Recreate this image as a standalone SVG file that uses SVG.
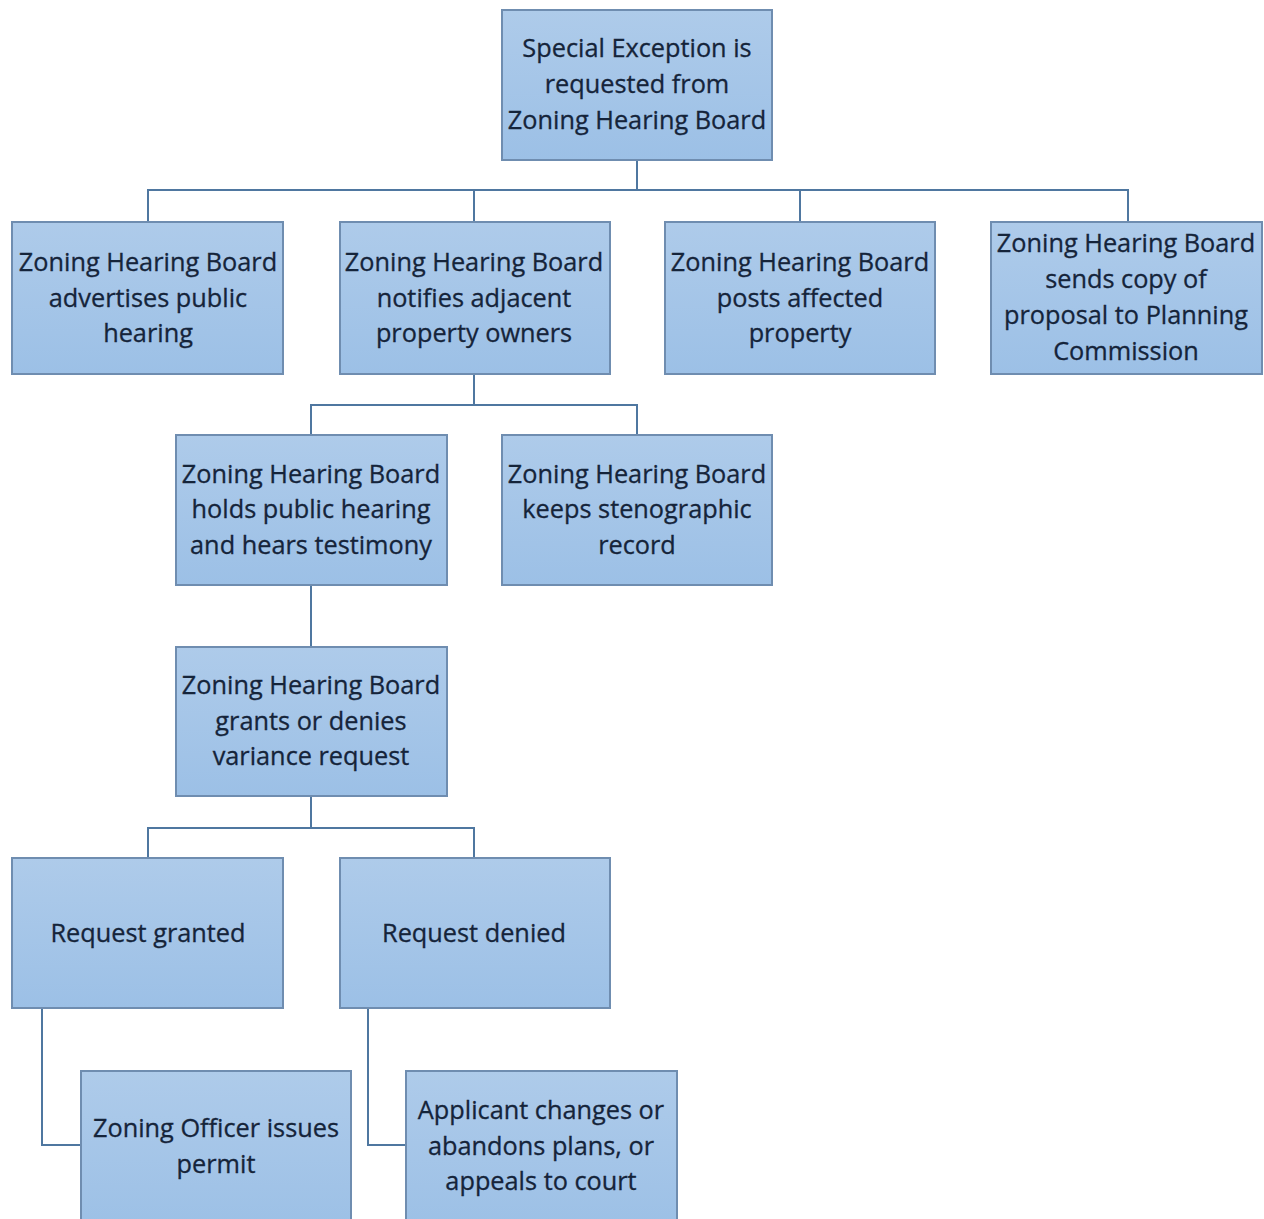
<svg xmlns="http://www.w3.org/2000/svg" width="1264" height="1219" viewBox="0 0 1264 1219">
<style>
.box{fill:url(#g);stroke:#6f8db0;stroke-width:2}
.t{font-family:"Open Sans","Liberation Sans",sans-serif;font-size:25.3px;fill:#15243a;text-anchor:middle;stroke:#15243a;stroke-width:0.3}
.c{fill:none;stroke:#4f77a0;stroke-width:2}
</style>
<defs>
<linearGradient id="g" x1="0" y1="0" x2="0" y2="1">
<stop offset="0" stop-color="#aecbea"/>
<stop offset="1" stop-color="#9cc0e6"/>
</linearGradient>
</defs>
<rect width="1264" height="1219" fill="#ffffff"/>
<g id="connectors">
<path class="c" d="M637 160V190M148 222V190H1128V222M474 190V222M800 190V222"/>
<path class="c" d="M474 374V405M311 435V405H637V435"/>
<path class="c" d="M311 585V647"/>
<path class="c" d="M311 796V828M148 858V828H474V858"/>
<path class="c" d="M42 1008V1145H81M368 1008V1145H406"/>
</g>
<g id="n1"><rect class="box" x="502" y="10" width="270" height="150"/>
<text class="t" x="637" y="57">Special Exception is</text><text class="t" x="637" y="93">requested from</text><text class="t" x="637" y="129">Zoning Hearing Board</text></g>
<g id="n2"><rect class="box" x="12" y="222" width="271" height="152"/>
<text class="t" x="148" y="271">Zoning Hearing Board</text><text class="t" x="148" y="307">advertises public</text><text class="t" x="148" y="342">hearing</text></g>
<g id="n3"><rect class="box" x="340" y="222" width="270" height="152"/>
<text class="t" x="474" y="271">Zoning Hearing Board</text><text class="t" x="474" y="307">notifies adjacent</text><text class="t" x="474" y="342">property owners</text></g>
<g id="n4"><rect class="box" x="665" y="222" width="270" height="152"/>
<text class="t" x="800" y="271">Zoning Hearing Board</text><text class="t" x="800" y="307">posts affected</text><text class="t" x="800" y="342">property</text></g>
<g id="n5"><rect class="box" x="991" y="222" width="271" height="152"/>
<text class="t" x="1126" y="252">Zoning Hearing Board</text><text class="t" x="1126" y="288">sends copy of</text><text class="t" x="1126" y="324">proposal to Planning</text><text class="t" x="1126" y="360">Commission</text></g>
<g id="n6"><rect class="box" x="176" y="435" width="271" height="150"/>
<text class="t" x="311" y="483">Zoning Hearing Board</text><text class="t" x="311" y="518">holds public hearing</text><text class="t" x="311" y="554">and hears testimony</text></g>
<g id="n7"><rect class="box" x="502" y="435" width="270" height="150"/>
<text class="t" x="637" y="483">Zoning Hearing Board</text><text class="t" x="637" y="518">keeps stenographic</text><text class="t" x="637" y="554">record</text></g>
<g id="n8"><rect class="box" x="176" y="647" width="271" height="149"/>
<text class="t" x="311" y="694">Zoning Hearing Board</text><text class="t" x="311" y="730">grants or denies</text><text class="t" x="311" y="765">variance request</text></g>
<g id="n9"><rect class="box" x="12" y="858" width="271" height="150"/>
<text class="t" x="148" y="942">Request granted</text></g>
<g id="n10"><rect class="box" x="340" y="858" width="270" height="150"/>
<text class="t" x="474" y="942">Request denied</text></g>
<g id="n11"><rect class="box" x="81" y="1071" width="270" height="160"/>
<text class="t" x="216" y="1137">Zoning Officer issues</text><text class="t" x="216" y="1173">permit</text></g>
<g id="n12"><rect class="box" x="406" y="1071" width="271" height="160"/>
<text class="t" x="541" y="1119">Applicant changes or</text><text class="t" x="541" y="1155">abandons plans, or</text><text class="t" x="541" y="1190">appeals to court</text></g>
</svg>
